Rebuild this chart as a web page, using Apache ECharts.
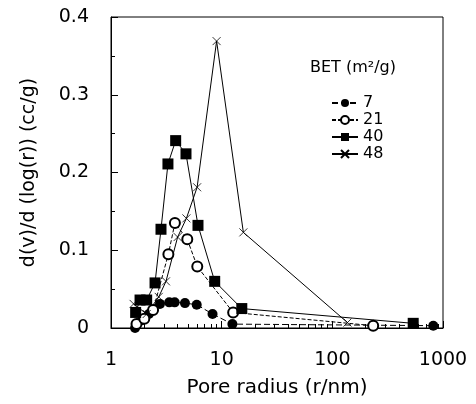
<!DOCTYPE html>
<html><head><meta charset="utf-8">
<script src="https://cdn.jsdelivr.net/npm/echarts@6/dist/echarts.min.js"></script>
<style>html,body{margin:0;padding:0;background:#fff}#c{width:476px;height:404px}</style>
</head><body><div id="c"></div>
<script>
// Data
const r7  = [1.65, 1.9, 2.2, 2.77, 3.36, 3.76, 4.66, 5.95, 8.27, 12.5, 817];
const v7  = [0.0, 0.01, 0.018, 0.031, 0.033, 0.033, 0.032, 0.030, 0.018, 0.005, 0.003];
const r21 = [1.7, 2.0, 2.4, 3.3, 3.78, 4.89, 6.02, 12.7, 234];
const v21 = [0.005, 0.012, 0.023, 0.095, 0.135, 0.114, 0.079, 0.02, 0.003];
const r40 = [1.67, 1.83, 2.1, 2.5, 2.83, 3.27, 3.84, 4.76, 6.11, 8.65, 15.2, 538];
const v40 = [0.020, 0.036, 0.036, 0.058, 0.127, 0.211, 0.241, 0.224, 0.132, 0.060, 0.025, 0.006];
const r48 = [1.6, 2.1, 2.7, 3.14, 4.0, 4.8, 6.0, 9.0, 15.7, 137];
const v48 = [0.031, 0.018, 0.040, 0.060, 0.117, 0.141, 0.181, 0.369, 0.123, 0.007];
const seriesNames = ['7', '21', '40', '48'];
const yTicks = [0, 0.1, 0.2, 0.3, 0.4];
const xMinor = [2,3,4,5,6,7,8,9,20,30,40,50,60,70,80,90,200,300,400,500,600,700,800,900];

const zip = (a, b) => a.map((x, i) => [x, b[i]]);
const F = 'DejaVu Sans';
const chart = echarts.init(document.getElementById('c'), null, {renderer: 'canvas'});
const xPath = 'path://M0,0L10,10M10,0L0,10';
const base = {type: 'line', xAxisIndex: 0, yAxisIndex: 0, animation: false};
chart.setOption({
  backgroundColor: '#fff',
  animation: false,
  grid: {left: 111, right: 33, top: 17, bottom: 76, show: true, borderColor: '#000', borderWidth: 1, backgroundColor: 'transparent'},
  graphic: [{type: 'text', left: 310, top: 60, style: {text: 'BET (m²/g)', font: '16px "DejaVu Sans"', fill: '#000'}}],
  legend: {
    orient: 'vertical', left: 326, top: 90, itemWidth: 26, itemHeight: 10, itemGap: 1,
    textStyle: {fontFamily: F, fontSize: 16, color: '#000'},
    data: seriesNames
  },
  xAxis: [{
    type: 'log', logBase: 10, min: 1, max: 1000,
    name: 'Pore radius (r/nm)', nameLocation: 'middle', nameGap: 50,
    nameTextStyle: {fontFamily: F, fontSize: 20, color: '#000'},
    axisLine: {lineStyle: {color: '#000', width: 1}},
    axisTick: {inside: true, length: 7, lineStyle: {color: '#000'}},
    axisLabel: {fontFamily: F, fontSize: 19, color: '#000', margin: 23, formatter: v => String(Math.round(v))},
    splitLine: {show: false}
  }, {
    type: 'log', logBase: 10, min: 1, max: 1000, position: 'bottom',
    axisLine: {show: true, lineStyle: {color: '#000', opacity: 0}}, axisLabel: {show: false}, splitLine: {show: false},
    axisTick: {show: true, inside: true, length: 4, customValues: xMinor, lineStyle: {color: '#000', width: 1}}
  }],
  yAxis: {
    type: 'value', min: 0, max: 0.4, interval: 0.1,
    name: 'd(v)/d (log(r)) (cc/g)', nameLocation: 'middle', nameGap: 72,
    nameTextStyle: {fontFamily: F, fontSize: 19, color: '#000'},
    axisLine: {lineStyle: {color: '#000', width: 1}},
    axisTick: {inside: true, length: 7, lineStyle: {color: '#000'}},
    minorTick: {show: true, splitNumber: 2, length: 4, lineStyle: {color: '#000'}},
    axisLabel: {fontFamily: F, fontSize: 19, color: '#000', margin: 22,
      formatter: v => yTicks.includes(+v.toFixed(2)) ? (v === 0 ? '0' : v.toFixed(1)) : ''},
    splitLine: {show: false}
  },
  series: [
    Object.assign({}, base, {name: '7', data: zip(r7, v7), symbol: 'circle', symbolSize: 10,
      itemStyle: {color: '#000'}, lineStyle: {color: '#000', width: 1, type: [6, 3]}}),
    Object.assign({}, base, {name: '21', data: zip(r21, v21), symbol: 'emptyCircle', symbolSize: 10,
      itemStyle: {color: '#000', borderColor: '#000', borderWidth: 1}, lineStyle: {color: '#000', width: 1, type: [4, 2]}}),
    Object.assign({}, base, {name: '40', data: zip(r40, v40), symbol: 'rect', symbolSize: 11,
      itemStyle: {color: '#000'}, lineStyle: {color: '#000', width: 1}}),
    Object.assign({}, base, {name: '48', data: zip(r48, v48), symbol: xPath, symbolSize: 8,
      itemStyle: {color: 'none', borderColor: '#000', borderWidth: 0.8}, lineStyle: {color: '#000', width: 1}})
  ]
});
</script></body></html>
